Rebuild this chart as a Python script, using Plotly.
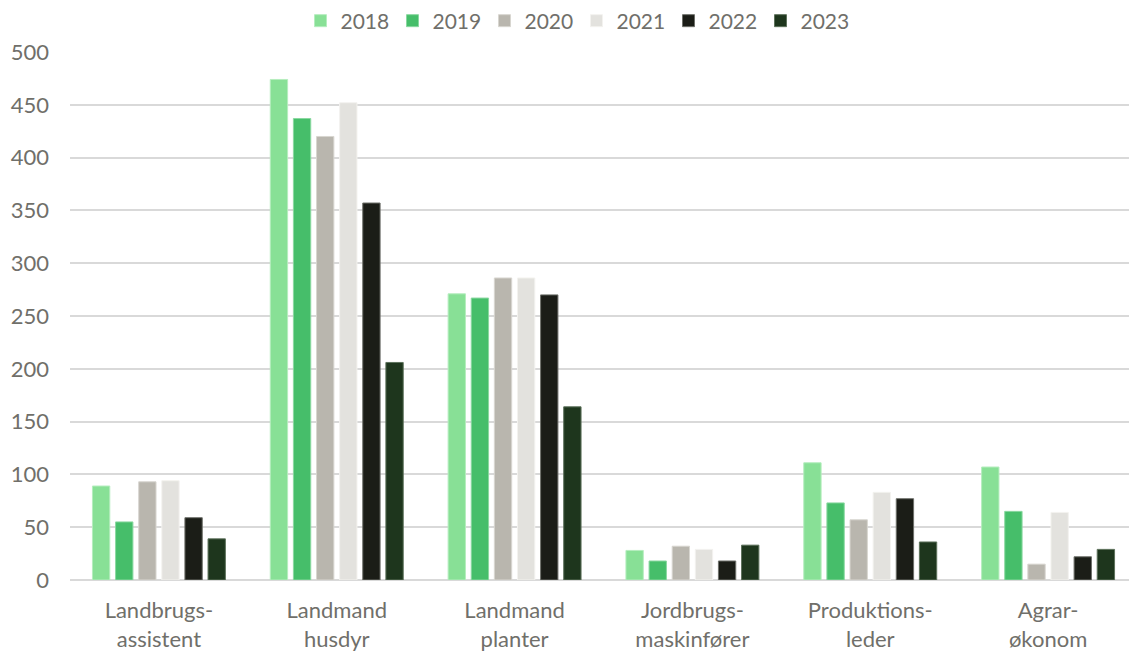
import plotly.graph_objects as go

categories = ["Landbrugs-<br>assistent", "Landmand<br>husdyr", "Landmand<br>planter",
              "Jordbrugs-<br>maskinfører", "Produktions-<br>leder", "Agrar-<br>økonom"]
years = ["2018", "2019", "2020", "2021", "2022", "2023"]

v2018 = [89, 474, 271, 28, 111, 107]
v2019 = [55, 437, 267, 18, 73, 65]
v2020 = [93, 420, 286, 32, 57, 15]
v2021 = [94, 452, 286, 29, 83, 64]
v2022 = [59, 357, 270, 18, 77, 22]
v2023 = [39, 206, 164, 33, 36, 29]

series = [v2018, v2019, v2020, v2021, v2022, v2023]
colors = ["#88E096", "#46BE6A", "#B9B6AE", "#E3E2DE", "#1B1D17", "#1E361D"]
lines = ["#B5EDBE", "#8AD8A0", "#D8D6D0", "#F3F2EF", "#6E706A", "#5E725C"]

fig = go.Figure()
for yr, vals, c, lc in zip(years, series, colors, lines):
    fig.add_trace(go.Bar(name=yr, x=categories, y=vals, marker_color=c,
                         marker_line=dict(color=lc, width=1)))

fig.update_layout(
    width=1137, height=652,
    barmode="group", bargap=0.22, bargroupgap=0.25,
    plot_bgcolor="white", paper_bgcolor="white",
    font=dict(family="Lato", size=22, color="#706F6A"),
    margin=dict(l=62, r=8, t=44, b=80, autoexpand=False),
    legend=dict(orientation="h", x=0.5, xanchor="center", xref="container",
                y=1.0587, yanchor="middle", yref="paper",
                font=dict(size=21), itemwidth=30, traceorder="normal",
                entrywidth=47, entrywidthmode="pixels"),
)
fig.update_yaxes(range=[0, 500], dtick=50, showgrid=True, gridcolor="#D9D9D9", gridwidth=1.5,
                 zeroline=True, zerolinecolor="#D9D9D9", zerolinewidth=1.5,
                 ticks="", ticklabelstandoff=20, automargin=False)
fig.update_xaxes(showgrid=False, ticks="", showline=False, ticklabelstandoff=15, automargin=False)

fig.write_html("out.html")
